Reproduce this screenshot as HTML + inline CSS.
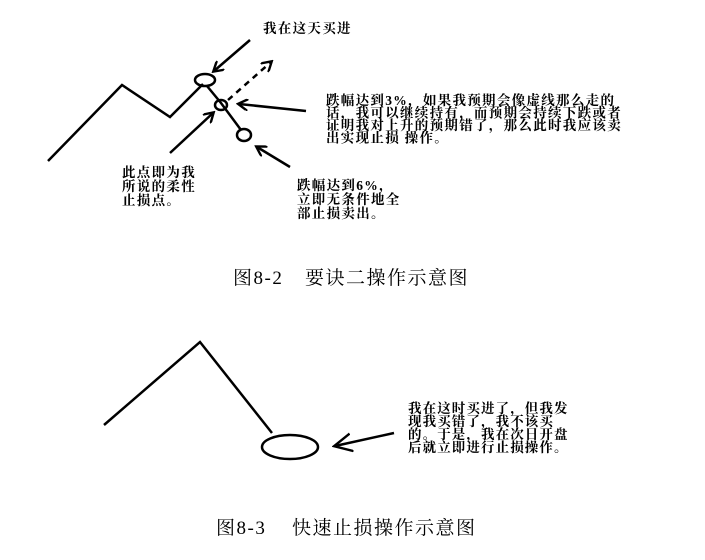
<!DOCTYPE html>
<html><head><meta charset="utf-8"><style>
html,body{margin:0;padding:0;background:#fff;}
svg{display:block}
text{font-family:"Liberation Serif","Noto Serif CJK SC","Noto Sans CJK SC",serif;fill:#000;}
.s{font-size:13.5px;letter-spacing:1.3px;font-weight:bold;font-family:"Liberation Serif","Noto Serif CJK SC",serif;}
.t{font-size:13.5px;letter-spacing:1.1px;font-weight:bold;font-family:"Liberation Serif","Noto Serif CJK SC",serif;}
.c{font-size:19px;letter-spacing:1.5px;}
</style></head><body>
<svg width="705" height="560" viewBox="0 0 705 560" xmlns="http://www.w3.org/2000/svg">
<defs>
<marker id="a" markerWidth="12" markerHeight="12" refX="9" refY="6" orient="auto" markerUnits="userSpaceOnUse">
<path d="M0,0 L10,6 L0,12" fill="none" stroke="#000" stroke-width="2.4"/>
</marker>
<marker id="b" markerWidth="20" markerHeight="20" refX="17" refY="10" orient="auto" markerUnits="userSpaceOnUse">
<path d="M0,1 L18,10 L0,19" fill="none" stroke="#000" stroke-width="2.4"/>
</marker>
</defs>
<g fill="none" stroke="#000" stroke-width="2.5">
<polyline points="48,161 122,85 170,117 203,84"/>
<polyline points="207,86 221,103 241,130"/>
<ellipse cx="205" cy="80" rx="10" ry="6"/>
<ellipse cx="221" cy="105" rx="6" ry="5"/>
<ellipse cx="244" cy="135" rx="7" ry="6"/>
<line x1="250" y1="40" x2="214" y2="71" marker-end="url(#a)"/>
<line x1="228" y1="100" x2="271" y2="62" stroke-dasharray="6,5" marker-end="url(#a)"/>
<line x1="306" y1="111" x2="239" y2="104" marker-end="url(#a)"/>
<line x1="170" y1="153" x2="213" y2="113" marker-end="url(#a)"/>
<line x1="290" y1="167" x2="257" y2="147" marker-end="url(#a)"/>
<polyline points="104,425 200,342 272,433"/>
<ellipse cx="290" cy="447" rx="28" ry="12"/>
<line x1="394" y1="433" x2="335" y2="446" marker-end="url(#b)"/>
</g>
<text class="s" x="263" y="33">我在这天买进</text>
<text class="s" x="326" y="105">跌幅达到3%，如果我预期会像虚线那么走的</text>
<text class="s" x="326" y="117.5">话，我可以继续持有，而预期会持续下跌或者</text>
<text class="s" x="326" y="130">证明我对上升的预期错了，那么此时我应该卖</text>
<text class="s" x="326" y="142.5">出实现止损 操作。</text>
<text class="s" x="122" y="177">此点即为我</text>
<text class="s" x="122" y="191">所说的柔性</text>
<text class="s" x="122" y="205">止损点。</text>
<text class="s" x="297" y="190">跌幅达到6%，</text>
<text class="s" x="297" y="204">立即无条件地全</text>
<text class="s" x="297" y="218">部止损卖出。</text>
<text class="c" x="233" y="284">图8-2<tspan x="305">要诀二操作示意图</tspan></text>
<text class="t" x="408" y="413">我在这时买进了，但我发</text>
<text class="t" x="408" y="426">现我买错了，我不该买</text>
<text class="t" x="408" y="439">的。于是，我在次日开盘</text>
<text class="t" x="408" y="452">后就立即进行止损操作。</text>
<text class="c" x="216" y="534">图8-3<tspan x="292">快速止损操作示意图</tspan></text>
</svg>
</body></html>
